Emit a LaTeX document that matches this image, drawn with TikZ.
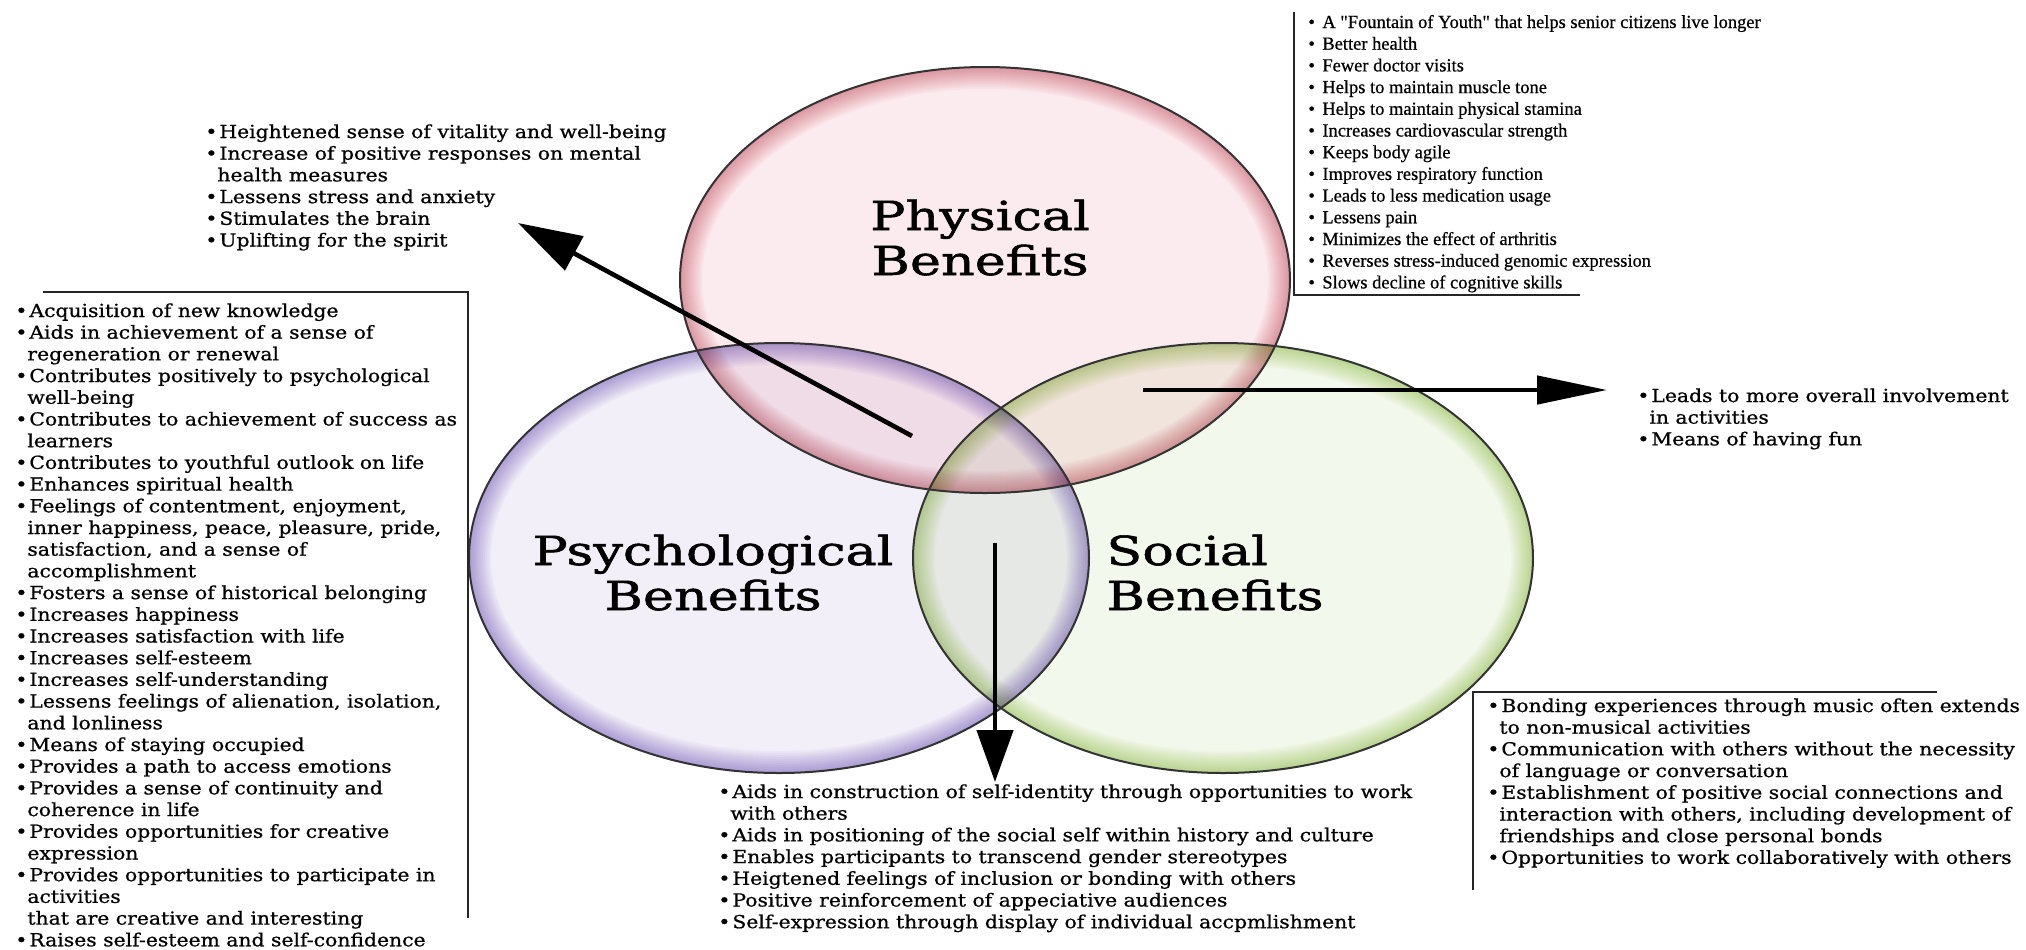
\documentclass[tikz,border=0pt]{standalone}
\usepackage{fontspec}
\setmainfont{DejaVu Serif}
\newfontfamily\listfont[FakeStretch=1.13,FakeBold=0.8]{DejaVu Serif}
\newfontfamily\labelfont[FakeStretch=1.31,FakeBold=1.4]{DejaVu Serif}
\newfontfamily\physfont[FakeBold=0.6]{Liberation Serif}
\usetikzlibrary{arrows.meta,shapes.geometric,positioning}

\definecolor{physin}{HTML}{FCEBEE}
\definecolor{physrim}{HTML}{DA7E8C}
\definecolor{psyin}{HTML}{F2EFF8}
\definecolor{psyrim}{HTML}{9C85D2}
\definecolor{socin}{HTML}{F3F8EC}
\definecolor{socrim}{HTML}{B3D374}

\newcommand\itm{\makebox[7pt][l]{\textbullet}}
\newcommand\ind{\hspace*{6pt}}
\newcommand\blist[1]{\begin{tabular}[t]{@{}l@{}}#1\end{tabular}}

\begin{document}
\begin{tikzpicture}[x=0.5pt,y=-0.5pt,
    venn/.style={ellipse, inner sep=0pt},
    vennlabel/.style={inner sep=0pt, anchor=base, font=\labelfont\fontsize{20}{22.5}\selectfont},
    items/.style={inner sep=0pt, anchor=base west, font=\listfont\fontsize{9}{10.85}\selectfont},
    boxline/.style={line width=1pt, black!85},
    bigarrow/.style 2 args={-{Triangle[length=#1,width=#2]}, line width=2.3pt},
    ]
    \fill[white] (0,0) rectangle (2026,949);
    \useasboundingbox (0,0) rectangle (2026,949);

    % the three circles
    \begin{scope}[blend mode=multiply]
    \node[venn, fill=physin, minimum width=305pt, minimum height=213pt] (phys) at (985,280) {};
    \node[venn, fill=psyin, minimum width=310pt, minimum height=215pt] (psy) at (779,558) {};
    \node[venn, fill=socin, minimum width=310pt, minimum height=215pt] (soc) at (1223,558) {};
    % glow along the inside of each rim
    \foreach \c/\col/\rx/\ry in {phys/physrim/152.5pt/106.5pt, psy/psyrim/155pt/107.5pt, soc/socrim/155pt/107.5pt}{
        \begin{scope}
        \clip (\c.center) ellipse [x radius=\rx, y radius=\ry];
        \foreach \w in {2,4,...,22}
        \draw[\col, line width=\w pt, opacity=0.07] (\c.center) ellipse [x radius=\rx, y radius=\ry];
        \end{scope}
    }
    \end{scope}
    \foreach \c/\rx/\ry in {phys/152.5pt/106.5pt, psy/155pt/107.5pt, soc/155pt/107.5pt}
    \draw[black!80, line width=1pt] (\c.center) ellipse [x radius=\rx, y radius=\ry];

    \node[vennlabel] (physlbl) at (980,230) {\begin{tabular}[t]{@{}c@{}}Physical\\Benefits\end{tabular}};
    \node[vennlabel] (psylbl) at (713,565) {\begin{tabular}[t]{@{}c@{}}Psychological\\Benefits\end{tabular}};
    \node[vennlabel, anchor=base west] (soclbl) at (1106,565) {\begin{tabular}[t]{@{}l@{}}Social\\Benefits\end{tabular}};

    % arrow ends
    \coordinate (upT) at (912,436);
    \coordinate (upH) at (518,223);
    \coordinate (inT) at (1143,390);
    \coordinate (inH) at (1607,390);
    \coordinate (selfT) at (995,543);
    \coordinate (selfH) at (995,782);

    \foreach \s/\e/\l/\w in {upT/upH/32pt/19pt, inT/inH/35pt/14pt, selfT/selfH/26pt/18pt}
    \draw [bigarrow={\l}{\w}] (\s) -- (\e);

    % lists
    \node[items] (uplift) at (205,138) {\blist{%
        \itm Heightened sense of vitality and well-being\\
        \itm Increase of positive responses on mental\\
        \ind health measures\\
        \itm Lessens stress and anxiety\\
        \itm Stimulates the brain\\
        \itm Uplifting for the spirit}};

    \node[items, font=\physfont\fontsize{9.23}{10.85}\selectfont] (physlist) at (1308,28) {\blist{%
        \itm A "Fountain of Youth" that helps senior citizens live longer\\
        \itm Better health\\
        \itm Fewer doctor visits\\
        \itm Helps to maintain muscle tone\\
        \itm Helps to maintain physical stamina\\
        \itm Increases cardiovascular strength\\
        \itm Keeps body agile\\
        \itm Improves respiratory function\\
        \itm Leads to less medication usage\\
        \itm Lessens pain\\
        \itm Minimizes the effect of arthritis\\
        \itm Reverses stress-induced genomic expression\\
        \itm Slows decline of cognitive skills}};
    \draw[boxline] (1294,12) -- (1294,295) -- (1580,295);

    \node[items] (psylist) at (15,317) {\blist{%
        \itm Acquisition of new knowledge\\
        \itm Aids in achievement of a sense of\\
        \ind regeneration or renewal\\
        \itm Contributes positively to psychological\\
        \ind well-being\\
        \itm Contributes to achievement of success as\\
        \ind learners\\
        \itm Contributes to youthful outlook on life\\
        \itm Enhances spiritual health\\
        \itm Feelings of contentment, enjoyment,\\
        \ind inner happiness, peace, pleasure, pride,\\
        \ind satisfaction, and a sense of\\
        \ind accomplishment\\
        \itm Fosters a sense of historical belonging\\
        \itm Increases happiness\\
        \itm Increases satisfaction with life\\
        \itm Increases self-esteem\\
        \itm Increases self-understanding\\
        \itm Lessens feelings of alienation, isolation,\\
        \ind and lonliness\\
        \itm Means of staying occupied\\
        \itm Provides a path to access emotions\\
        \itm Provides a sense of continuity and\\
        \ind coherence in life\\
        \itm Provides opportunities for creative\\
        \ind expression\\
        \itm Provides opportunities to participate in\\
        \ind activities\\
        \ind that are creative and interesting\\
        \itm Raises self-esteem and self-confidence}};
    \draw[boxline] (43,292) -- (468,292) -- (468,918);

    \node[items] (involve) at (1637,402) {\blist{%
        \itm Leads to more overall involvement\\
        \ind in activities\\
        \itm Means of having fun}};

    \node[items] (selflist) at (718,798) {\blist{%
        \itm Aids in construction of self-identity through opportunities to work\\
        \ind with others\\
        \itm Aids in positioning of the social self within history and culture\\
        \itm Enables participants to transcend gender stereotypes\\
        \itm Heigtened feelings of inclusion or bonding with others\\
        \itm Positive reinforcement of appeciative audiences\\
        \itm Self-expression through display of individual accpmlishment}};

    \node[items] (soclist) at (1487,712) {\blist{%
        \itm Bonding experiences through music often extends\\
        \ind to non-musical activities\\
        \itm Communication with others without the necessity\\
        \ind of language or conversation\\
        \itm Establishment of positive social connections and\\
        \ind interaction with others, including development of\\
        \ind friendships and close personal bonds\\
        \itm Opportunities to work collaboratively with others}};
    \draw[boxline] (1473,890) -- (1473,692) -- (1937,692);
\end{tikzpicture}
\end{document}
